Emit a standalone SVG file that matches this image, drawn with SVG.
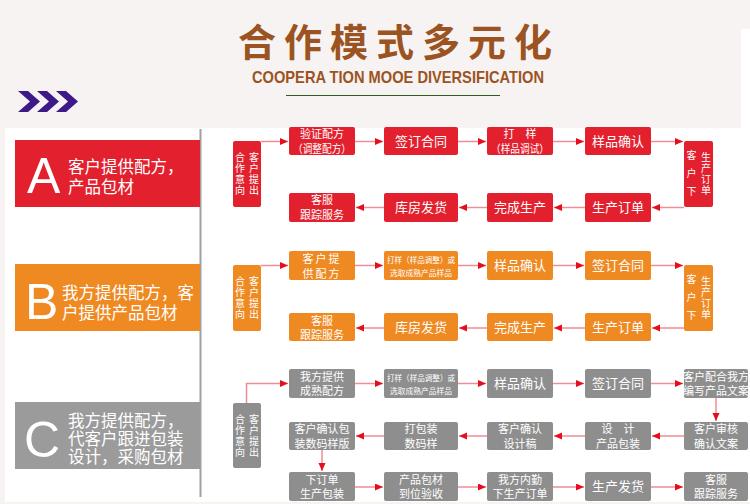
<svg xmlns="http://www.w3.org/2000/svg" width="750" height="504" viewBox="0 0 750 504">
<style>
.cjk{font-family:"Noto Sans CJK SC","Noto Sans",sans-serif;}
.t{font-family:"Noto Sans CJK SC","Noto Sans",sans-serif;fill:#fff;text-anchor:middle;font-size:11px;}
.vt{font-family:"Noto Sans CJK SC","Noto Sans",sans-serif;fill:#fff;font-size:10px;writing-mode:tb;}
.t13{font-size:13px;}
.t8{font-size:8px;}
.lbl{font-family:"Noto Sans CJK SC","Noto Sans",sans-serif;fill:#fff;font-size:16.5px;}
.big{font-family:"Liberation Sans","Open Sans",sans-serif;fill:#fff;font-size:50px;}
.r{fill:#e3212e;}
.o{fill:#ef8a22;}
.g{fill:#8e8e8e;}
.c{fill:none;stroke:#f08c94;stroke-width:1.5;}
</style>
<defs>
<marker id="ah" markerUnits="userSpaceOnUse" markerWidth="8" markerHeight="8" refX="8" refY="3.5" orient="auto">
<path d="M0,0 L8,3.5 L0,7 z" fill="#e50e1d"/>
</marker>
</defs>
<rect x="0" y="0" width="750" height="504" fill="#f6f3f2"/>
<rect x="741" y="29" width="9" height="100" fill="#ffffff"/>
<rect x="5" y="128" width="745" height="374" fill="#ffffff"/>
<line x1="200.5" y1="129" x2="200.5" y2="497" stroke="#a0a0a0" stroke-width="2"/>

<g id="header">
<text x="399" y="56" class="cjk" font-size="38" font-weight="bold" fill="#9c5322" text-anchor="middle" letter-spacing="8">合作模式多元化</text>
<text x="252" y="83" font-family="Liberation Sans,Arial,sans-serif" font-size="17" font-weight="bold" fill="#9c5322" textLength="292" lengthAdjust="spacingAndGlyphs">COOPERA TION MOOE DIVERSIFICATION</text>
<line x1="286" y1="95.5" x2="500" y2="95.5" stroke="#2d5a1e" stroke-width="1"/>
<g fill="#3d1a87">
<polygon points="18,91 28,91 40,101.5 28,112 18,112 30,101.5"/>
<polygon points="37,91 47,91 59,101.5 47,112 37,112 49,101.5"/>
<polygon points="56,91 66,91 78,101.5 66,112 56,112 68,101.5"/>
</g>
</g>

<g id="labelA">
<rect x="15" y="140" width="185" height="67" class="r"/>
<text x="27" y="193" class="big">A</text>
<text class="lbl" font-size="17"><tspan x="68" y="173">客户提供配方，</tspan><tspan x="68" y="193">产品包材</tspan></text>
</g>
<g id="labelB">
<rect x="15" y="264" width="185" height="67" class="o"/>
<text x="25" y="319" class="big">B</text>
<text class="lbl"><tspan x="62" y="299">我方提供配方，客</tspan><tspan x="62" y="319">户提供产品包材</tspan></text>
</g>
<g id="labelC">
<rect x="15" y="402" width="185" height="67" fill="#9b9b9b"/>
<text x="24" y="457" class="big">C</text>
<text class="lbl"><tspan x="68" y="427">我方提供配方，</tspan><tspan x="68" y="445">代客户跟进包装</tspan><tspan x="68" y="463">设计，采购包材</tspan></text>
</g>

<!-- Row A -->
<g id="a_start"><rect x="233" y="141" width="28" height="66" rx="2" class="r"/>
<text class="vt" x="240" y="152" letter-spacing="1">合作意向</text>
<text class="vt" x="254" y="152" letter-spacing="1">客户提出</text></g>
<g id="a1"><rect x="289" y="127" width="66" height="28" rx="2" class="r"/><text class="t"><tspan x="322" y="137.5">验证配方</tspan><tspan x="322" y="152.5" textLength="58" lengthAdjust="spacingAndGlyphs">（调整配方）</tspan></text></g>
<g id="a2"><rect x="384" y="127" width="74" height="28" rx="2" class="r"/><text class="t t13" x="421" y="145.5">签订合同</text></g>
<g id="a3"><rect x="487" y="127" width="66" height="28" rx="2" class="r"/><text class="t"><tspan x="520" y="137.5">打　样</tspan><tspan x="520" y="152.5" textLength="58" lengthAdjust="spacingAndGlyphs">（样品调试）</tspan></text></g>
<g id="a4"><rect x="585" y="127" width="66" height="28" rx="2" class="r"/><text class="t t13" x="618" y="145.5">样品确认</text></g>
<g id="a_order"><rect x="684" y="141" width="29" height="66" rx="2" class="r"/>
<text class="vt" x="691.5" y="150" letter-spacing="8">客户下</text>
<text class="vt" x="706" y="152" letter-spacing="1">生产订单</text></g>
<g id="a5"><rect x="585" y="193" width="66" height="29" rx="2" class="r"/><text class="t t13" x="618" y="212">生产订单</text></g>
<g id="a6"><rect x="487" y="193" width="66" height="29" rx="2" class="r"/><text class="t t13" x="520" y="212">完成生产</text></g>
<g id="a7"><rect x="384" y="193" width="74" height="29" rx="2" class="r"/><text class="t t13" x="421" y="212">库房发货</text></g>
<g id="a8"><rect x="289" y="193" width="66" height="29" rx="2" class="r"/><text class="t"><tspan x="322" y="204">客服</tspan><tspan x="322" y="219">跟踪服务</tspan></text></g>

<!-- Row B -->
<g id="b_start"><rect x="233" y="265" width="28" height="66" rx="2" class="o"/>
<text class="vt" x="240" y="276.5" letter-spacing="1">合作意向</text>
<text class="vt" x="254" y="276.5" letter-spacing="1">客户提出</text></g>
<g id="b1"><rect x="289" y="251" width="66" height="29" rx="2" class="o"/><text class="t" letter-spacing="2"><tspan x="322" y="263">客户提</tspan><tspan x="322" y="278">供配方</tspan></text></g>
<g id="b2"><rect x="384" y="251" width="74" height="29" rx="2" class="o"/><text class="t t8"><tspan x="421" y="263" textLength="68" lengthAdjust="spacingAndGlyphs">打样（样品调整）或</tspan><tspan x="421" y="276" textLength="62" lengthAdjust="spacingAndGlyphs">选取成熟产品样品</tspan></text></g>
<g id="b3"><rect x="487" y="251" width="66" height="29" rx="2" class="o"/><text class="t t13" x="520" y="270">样品确认</text></g>
<g id="b4"><rect x="585" y="251" width="66" height="29" rx="2" class="o"/><text class="t t13" x="618" y="270">签订合同</text></g>
<g id="b_order"><rect x="684" y="265" width="29" height="66" rx="2" class="o"/>
<text class="vt" x="691.5" y="274" letter-spacing="8">客户下</text>
<text class="vt" x="706" y="276" letter-spacing="1">生产订单</text></g>
<g id="b5"><rect x="585" y="313" width="66" height="28" rx="2" class="o"/><text class="t t13" x="618" y="331.5">生产订单</text></g>
<g id="b6"><rect x="487" y="313" width="66" height="28" rx="2" class="o"/><text class="t t13" x="520" y="331.5">完成生产</text></g>
<g id="b7"><rect x="384" y="313" width="74" height="28" rx="2" class="o"/><text class="t t13" x="421" y="331.5">库房发货</text></g>
<g id="b8"><rect x="289" y="313" width="66" height="28" rx="2" class="o"/><text class="t"><tspan x="322" y="325">客服</tspan><tspan x="322" y="339">跟踪服务</tspan></text></g>

<!-- Row C -->
<g id="c_start"><rect x="233" y="403" width="28" height="65" rx="2" class="g"/>
<text class="vt" x="240" y="414.5" letter-spacing="1">合作意向</text>
<text class="vt" x="254" y="414.5" letter-spacing="1">客户提出</text></g>
<g id="c1"><rect x="289" y="369" width="66" height="29" rx="2" class="g"/><text class="t"><tspan x="322" y="381">我方提供</tspan><tspan x="322" y="395">成熟配方</tspan></text></g>
<g id="c2"><rect x="384" y="369" width="74" height="29" rx="2" class="g"/><text class="t t8"><tspan x="421" y="381" textLength="68" lengthAdjust="spacingAndGlyphs">打样（样品调整）或</tspan><tspan x="421" y="394" textLength="62" lengthAdjust="spacingAndGlyphs">选取成熟产品样品</tspan></text></g>
<g id="c3"><rect x="487" y="369" width="66" height="29" rx="2" class="g"/><text class="t t13" x="520" y="388">样品确认</text></g>
<g id="c4"><rect x="585" y="369" width="66" height="29" rx="2" class="g"/><text class="t t13" x="618" y="388">签订合同</text></g>
<g id="c5"><rect x="684" y="369" width="64" height="29" rx="2" class="g"/><text class="t" font-size="10"><tspan x="716" y="381">客户配合我方</tspan><tspan x="716" y="395">编写产品文案</tspan></text></g>
<g id="c6"><rect x="684" y="422" width="64" height="28" rx="2" class="g"/><text class="t"><tspan x="716" y="433">客户审核</tspan><tspan x="716" y="447.5">确认文案</tspan></text></g>
<g id="c7"><rect x="585" y="422" width="66" height="28" rx="2" class="g"/><text class="t"><tspan x="618" y="433">设　计</tspan><tspan x="618" y="447.5">产品包装</tspan></text></g>
<g id="c8"><rect x="487" y="422" width="66" height="28" rx="2" class="g"/><text class="t"><tspan x="520" y="433">客户确认</tspan><tspan x="520" y="447.5">设计稿</tspan></text></g>
<g id="c9"><rect x="384" y="422" width="74" height="28" rx="2" class="g"/><text class="t"><tspan x="421" y="433">打包装</tspan><tspan x="421" y="447.5">数码样</tspan></text></g>
<g id="c10"><rect x="289" y="422" width="66" height="28" rx="2" class="g"/><text class="t"><tspan x="322" y="433">客户确认包</tspan><tspan x="322" y="447.5">装数码样版</tspan></text></g>
<g id="c11"><rect x="289" y="472" width="66" height="29" rx="2" class="g"/><text class="t"><tspan x="322" y="483.5">下订单</tspan><tspan x="322" y="497.5">生产包装</tspan></text></g>
<g id="c12"><rect x="384" y="472" width="74" height="29" rx="2" class="g"/><text class="t"><tspan x="421" y="483.5">产品包材</tspan><tspan x="421" y="497.5">到位验收</tspan></text></g>
<g id="c13"><rect x="487" y="472" width="66" height="29" rx="2" class="g"/><text class="t" font-size="11.5"><tspan x="520" y="483.5">我方内勤</tspan><tspan x="520" y="497.5">下生产订单</tspan></text></g>
<g id="c14"><rect x="585" y="472" width="66" height="29" rx="2" class="g"/><text class="t t13" x="618" y="491">生产发货</text></g>
<g id="c15"><rect x="684" y="472" width="64" height="29" rx="2" class="g"/><text class="t"><tspan x="716" y="483.5">客服</tspan><tspan x="716" y="497.5">跟踪服务</tspan></text></g>

<g id="connectors">
<path class="c" marker-end="url(#ah)" d="M261,141.5 H288"/>
<path class="c" marker-end="url(#ah)" d="M355,141.5 H383"/>
<path class="c" marker-end="url(#ah)" d="M458,141.5 H486"/>
<path class="c" marker-end="url(#ah)" d="M553,141.5 H584"/>
<path class="c" marker-end="url(#ah)" d="M651,141.5 H683"/>
<path class="c" marker-end="url(#ah)" d="M684,207.5 H652"/>
<path class="c" marker-end="url(#ah)" d="M585,207.5 H554"/>
<path class="c" marker-end="url(#ah)" d="M487,207.5 H459"/>
<path class="c" marker-end="url(#ah)" d="M384,207.5 H356"/>
<path class="c" marker-end="url(#ah)" d="M261,265.5 H288"/>
<path class="c" marker-end="url(#ah)" d="M355,265.5 H383"/>
<path class="c" marker-end="url(#ah)" d="M458,265.5 H486"/>
<path class="c" marker-end="url(#ah)" d="M553,265.5 H584"/>
<path class="c" marker-end="url(#ah)" d="M651,265.5 H683"/>
<path class="c" marker-end="url(#ah)" d="M684,328 H652"/>
<path class="c" marker-end="url(#ah)" d="M585,328 H554"/>
<path class="c" marker-end="url(#ah)" d="M487,328 H459"/>
<path class="c" marker-end="url(#ah)" d="M384,328 H356"/>
<path class="c" marker-end="url(#ah)" d="M246.5,403 V383.5 H288"/>
<path class="c" marker-end="url(#ah)" d="M355,383.5 H383"/>
<path class="c" marker-end="url(#ah)" d="M458,383.5 H486"/>
<path class="c" marker-end="url(#ah)" d="M553,383.5 H584"/>
<path class="c" marker-end="url(#ah)" d="M651,383.5 H683"/>
<path class="c" marker-end="url(#ah)" d="M716,398 V421"/>
<path class="c" marker-end="url(#ah)" d="M684,436 H652"/>
<path class="c" marker-end="url(#ah)" d="M585,436 H554"/>
<path class="c" marker-end="url(#ah)" d="M487,436 H459"/>
<path class="c" marker-end="url(#ah)" d="M384,436 H356"/>
<path class="c" marker-end="url(#ah)" d="M322,450 V471"/>
<path class="c" marker-end="url(#ah)" d="M355,487 H383"/>
<path class="c" marker-end="url(#ah)" d="M458,487 H486"/>
<path class="c" marker-end="url(#ah)" d="M553,487 H584"/>
<path class="c" marker-end="url(#ah)" d="M651,487 H683"/>
</g>
</svg>
